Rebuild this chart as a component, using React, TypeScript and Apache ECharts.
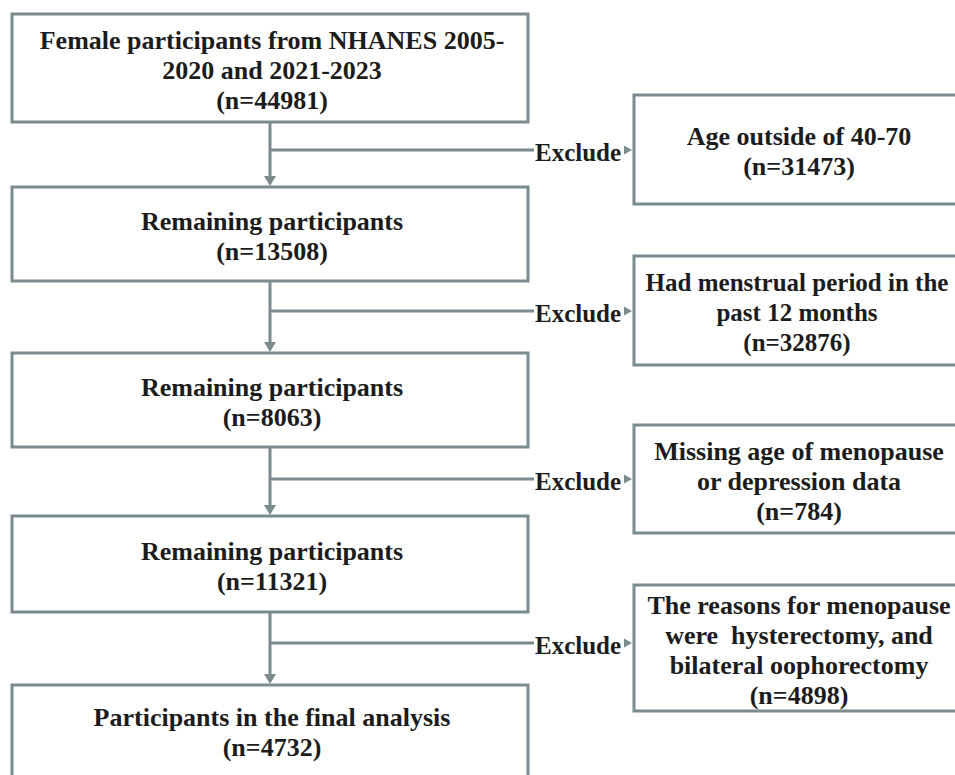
import React, { useEffect, useRef } from "react";
import * as echarts from "echarts";

const mainLabels: string[] = [
  "Female participants from NHANES 2005-\n2020 and 2021-2023",
  "Remaining participants",
  "Remaining participants",
  "Remaining participants",
  "Participants in the final analysis",
];
const mainCounts: number[] = [44981, 13508, 8063, 11321, 4732];
const excludeLabels: string[] = [
  "Age outside of 40-70",
  "Had menstrual period in the\npast 12 months",
  "Missing age of menopause\nor depression data",
  "The reasons for menopause\nwere  hysterectomy, and\nbilateral oophorectomy",
];
const excludeCounts: number[] = [31473, 32876, 784, 4898];

// layout
const mainBoxes = [
  { top: 14, bottom: 122 },
  { top: 187, bottom: 281 },
  { top: 353, bottom: 447 },
  { top: 516, bottom: 612 },
  { top: 685, bottom: 800 },
];
const sideBoxes = [
  { top: 95, bottom: 204 },
  { top: 256, bottom: 365 },
  { top: 425, bottom: 533 },
  { top: 585, bottom: 711 },
];
const sideFontSizes = [26, 25, 26, 26];
const branchY = [150, 311, 479, 643];

const STROKE = "#7b8c8e";
const TEXT = "#1c1c1c";
const FONT = '"Liberation Serif", "Times New Roman", serif';
const FS = 26;
const LH = 30;

export default function App() {
  const ref = useRef<HTMLDivElement>(null);
  useEffect(() => {
    document.body.style.margin = "0";
    const chart = echarts.init(ref.current!, null, { renderer: "svg" });
    const L = 12, R = 528, CX = 270;
    const SL = 634, SR = 972, SCX = 799;
    const els: any[] = [];
    mainBoxes.forEach((b, i) => {
      els.push({
        type: "rect",
        shape: { x: L, y: b.top, width: R - L, height: b.bottom - b.top },
        style: { fill: "#fff", stroke: STROKE, lineWidth: 3 },
      });
      const txt = mainLabels[i] + "\n(n=" + mainCounts[i] + ")";
      const cy = i === 4 ? 732 : (b.top + b.bottom) / 2 + 2;
      els.push({
        type: "text",
        x: CX + 2,
        y: cy,
        style: {
          text: txt,
          fontFamily: FONT,
          fontWeight: "bold",
          fontSize: FS,
          lineHeight: LH,
          fill: TEXT,
          align: "center",
          verticalAlign: "middle",
        },
      });
    });
    for (let i = 0; i < 4; i++) {
      const top = mainBoxes[i + 1].top;
      els.push({
        type: "line",
        shape: { x1: CX, y1: mainBoxes[i].bottom, x2: CX, y2: top - 10 },
        style: { stroke: STROKE, lineWidth: 3 },
      });
      els.push({
        type: "polygon",
        shape: { points: [[CX - 6, top - 11], [CX + 6, top - 11], [CX, top - 1]] },
        style: { fill: STROKE },
      });
      const y = branchY[i];
      els.push({
        type: "line",
        shape: { x1: CX, y1: y, x2: 534, y2: y },
        style: { stroke: STROKE, lineWidth: 3 },
      });
      els.push({
        type: "text",
        x: 535,
        y: y + 2,
        style: {
          text: "Exclude",
          fontFamily: FONT,
          fontWeight: "bold",
          fontSize: FS - 1,
          fill: TEXT,
          align: "left",
          verticalAlign: "middle",
        },
      });
      els.push({
        type: "polygon",
        shape: { points: [[624, y - 4.5], [624, y + 4.5], [632, y]] },
        style: { fill: STROKE },
      });
      const s = sideBoxes[i];
      els.push({
        type: "rect",
        shape: { x: SL, y: s.top, width: SR - SL, height: s.bottom - s.top },
        style: { fill: "#fff", stroke: STROKE, lineWidth: 3 },
      });
      els.push({
        type: "text",
        x: i === 1 ? 797 : SCX,
        y: (s.top + s.bottom) / 2 + 2,
        style: {
          text: excludeLabels[i] + "\n(n=" + excludeCounts[i] + ")",
          fontFamily: FONT,
          fontWeight: "bold",
          fontSize: sideFontSizes[i],
          lineHeight: LH,
          fill: TEXT,
          align: "center",
          verticalAlign: "middle",
        },
      });
    }
    chart.setOption({
      animation: false,
      backgroundColor: "#ffffff",
      graphic: { elements: els },
    });
    return () => chart.dispose();
  }, []);
  return <div ref={ref} style={{ width: 955, height: 775 }} />;
}
